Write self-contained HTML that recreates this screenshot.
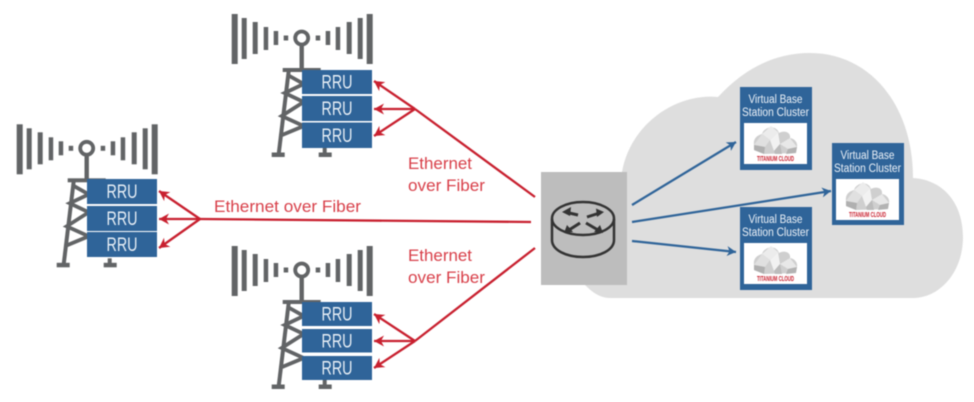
<!DOCTYPE html>
<html>
<head>
<meta charset="utf-8">
<style>
html,body{margin:0;padding:0;background:#fff;width:974px;height:402px;overflow:hidden}
svg{display:block;filter:blur(.4px)}
text{font-family:"Liberation Sans",sans-serif}
.rru{fill:#e8eff6;font-size:19px;text-anchor:middle}
.eth{fill:#d8404a;font-size:16.500px}
.vb{fill:#edf2f8;font-size:11.500px;text-anchor:middle}
.ti{fill:#c8202f;font-size:7px;font-weight:bold;text-anchor:middle}
</style>
</head>
<body>
<svg width="974" height="402" viewBox="0 0 974 402" xmlns="http://www.w3.org/2000/svg">
<defs>
<marker id="r" markerUnits="userSpaceOnUse" markerWidth="12" markerHeight="12" refX="10" refY="6" orient="auto"><path d="M0 .5L10 6L0 11.500L3 6Z" fill="#c8202f"/></marker>
<marker id="b" markerUnits="userSpaceOnUse" markerWidth="11" markerHeight="12" refX="9" refY="6" orient="auto"><path d="M0 1L9 6L0 11L2.500 6Z" fill="#2f6499"/></marker>
<g id="tower">
<g fill="#626466">
<rect x="-70" y="-24" width="6" height="50"/><rect x="-60" y="-20" width="5" height="41"/><rect x="-49" y="-16" width="5" height="32"/><rect x="-38" y="-11" width="4.500" height="23"/><rect x="-28" y="-7" width="4.500" height="14"/><rect x="-18" y="-2.500" width="4.500" height="5"/>
<rect x="14" y="-2.500" width="4.500" height="5"/><rect x="24" y="-7" width="4.500" height="14"/><rect x="34" y="-11" width="4.500" height="23"/><rect x="45" y="-16" width="5" height="32"/><rect x="56" y="-20" width="5" height="41"/><rect x="65" y="-24" width="6" height="50"/>
<rect x="-2.200" y="7" width="4.400" height="26"/>
<rect x="-19" y="30" width="38" height="4"/>
<rect x="-30" y="114.500" width="13" height="4.500"/><rect x="17" y="114.500" width="13" height="4.500"/>
</g>
<circle cx="0" cy="0" r="6.500" fill="#fff" stroke="#626466" stroke-width="3.800"/>
<g fill="none" stroke="#626466">
<path d="M-13 33L-23 116" stroke-width="4"/><path d="M23 110L23 116" stroke-width="4"/>
<path d="M-14 37L2 46L-17 55L2 64L-20 78L2 88L-22 98" stroke-width="3.800"/>
</g>
</g>
<g id="logo">
<path d="M10 22C9 14 15 12 18 11C20 4 32 1 35 10C40 7 47 9 46 15C52 16 55 22 52 26L52 30L20 31L10 27Z" fill="#cfcfcf"/>
<path d="M18 11L27 3L34 9L26 17Z" fill="#ececec"/>
<path d="M10 22L18 11L26 17L21 24Z" fill="#e0e0e0"/>
<path d="M26 17L34 9L36 21L30 28Z" fill="#f2f2f2"/>
<path d="M36 21L46 15L53 24L44 26Z" fill="#e8e8e8"/>
<path d="M10 22L21 24L20 31L10 27Z" fill="#b0b0b0"/>
<path d="M30 28L36 21L38 31L31 31Z" fill="#bcbcbc"/>
<path d="M44 26L53 24L52 30L42 31Z" fill="#b3b3b3"/>
</g>
</defs>

<!-- cloud -->
<path d="M622 172C630 125 675 93 718 97C745 68 775 53 810 53C870 53 913 105 913 178C945 180 963 205 963 237C963 272 940 298 913 298L610 298C600 298 592 292 585 285L622 285Z" fill="#dedede"/>

<!-- router -->
<rect x="541" y="172" width="86" height="113" fill="#bdbdbd"/>
<g fill="none" stroke="#333" stroke-width="2.500">
<ellipse cx="583" cy="218.500" rx="31" ry="16.500"/>
<path d="M552 219V240C552 250 566 257 583 257C600 257 614 250 614 240V219"/>
<g stroke-width="3">
<path d="M578 215L567 212.500"/><path d="M587 217L598 213.500"/><path d="M580 223L569 230"/><path d="M586 223L598 230"/>
</g>
</g>
<g fill="#333"><path d="M562 212L571 207L570 216Z"/><path d="M604 212L596 208.500L597 217Z"/><path d="M564 233L567 225L573 232Z"/><path d="M603 233L600 225L594 232Z"/></g>

<!-- towers -->
<use href="#tower" x="301.700" y="38"/>
<use href="#tower" x="86.700" y="148.300"/>
<use href="#tower" x="301.700" y="270"/>

<!-- RRUs -->
<g fill="#2f6499">
<rect x="302" y="70" width="70" height="24"/><rect x="302" y="96" width="70" height="25"/><rect x="302" y="122.500" width="70" height="25.500"/>
<rect x="87" y="179" width="70" height="25"/><rect x="87" y="206" width="70" height="25"/><rect x="87" y="232" width="70" height="25"/>
<rect x="302" y="302" width="70" height="24"/><rect x="302" y="329" width="70" height="23.500"/><rect x="302" y="356" width="70" height="24"/>
</g>
<text class="rru" x="337" y="88.500" textLength="31" lengthAdjust="spacingAndGlyphs">RRU</text>
<text class="rru" x="337" y="115" textLength="31" lengthAdjust="spacingAndGlyphs">RRU</text>
<text class="rru" x="337" y="142" textLength="31" lengthAdjust="spacingAndGlyphs">RRU</text>
<text class="rru" x="122" y="198" textLength="31" lengthAdjust="spacingAndGlyphs">RRU</text>
<text class="rru" x="122" y="225" textLength="31" lengthAdjust="spacingAndGlyphs">RRU</text>
<text class="rru" x="122" y="251" textLength="31" lengthAdjust="spacingAndGlyphs">RRU</text>
<text class="rru" x="337" y="320.500" textLength="31" lengthAdjust="spacingAndGlyphs">RRU</text>
<text class="rru" x="337" y="347.500" textLength="31" lengthAdjust="spacingAndGlyphs">RRU</text>
<text class="rru" x="337" y="374.500" textLength="31" lengthAdjust="spacingAndGlyphs">RRU</text>

<!-- red connectors -->
<g fill="none" stroke="#c8202f" stroke-width="2.300">
<path d="M415 109L535 197"/>
<path d="M415 109L374 81" marker-end="url(#r)"/><path d="M415 109L374 109" marker-end="url(#r)"/><path d="M415 109L374 136" marker-end="url(#r)"/>
<path d="M200 219L531 222"/>
<path d="M200 219L159 191" marker-end="url(#r)"/><path d="M200 219L159 219" marker-end="url(#r)"/><path d="M200 219L159 248" marker-end="url(#r)"/>
<path d="M415 341L535 248"/>
<path d="M415 341L374 314" marker-end="url(#r)"/><path d="M415 341L374 341" marker-end="url(#r)"/><path d="M415 341L374 368" marker-end="url(#r)"/>
</g>

<!-- labels -->
<text class="eth" x="408" y="169" textLength="64" lengthAdjust="spacingAndGlyphs">Ethernet</text>
<text class="eth" x="408" y="191" textLength="77" lengthAdjust="spacingAndGlyphs">over Fiber</text>
<text class="eth" x="214" y="212" textLength="147" lengthAdjust="spacingAndGlyphs">Ethernet over Fiber</text>
<text class="eth" x="408" y="261" textLength="64" lengthAdjust="spacingAndGlyphs">Ethernet</text>
<text class="eth" x="408" y="283" textLength="77" lengthAdjust="spacingAndGlyphs">over Fiber</text>

<!-- blue connectors -->
<g fill="none" stroke="#2f6499" stroke-width="2.200">
<path d="M632 205L736 142" marker-end="url(#b)"/>
<path d="M632 222L831 191" marker-end="url(#b)"/>
<path d="M632 241L736 252" marker-end="url(#b)"/>
</g>

<!-- VBS boxes -->
<rect x="740" y="87" width="72" height="83" fill="#2f6499"/>
<rect x="744" y="123" width="63" height="41" fill="#fff"/>
<use href="#logo" x="744" y="123"/>
<text class="vb" x="775.500" y="103" textLength="54" lengthAdjust="spacingAndGlyphs">Virtual Base</text>
<text class="vb" x="775.500" y="116" textLength="67" lengthAdjust="spacingAndGlyphs">Station Cluster</text>
<text class="ti" x="775.500" y="161" textLength="37" lengthAdjust="spacingAndGlyphs">TITANIUM CLOUD</text>

<rect x="832" y="143" width="72" height="82" fill="#2f6499"/>
<rect x="836" y="179" width="63" height="41" fill="#fff"/>
<use href="#logo" x="836" y="179"/>
<text class="vb" x="867.500" y="159" textLength="54" lengthAdjust="spacingAndGlyphs">Virtual Base</text>
<text class="vb" x="867.500" y="172" textLength="67" lengthAdjust="spacingAndGlyphs">Station Cluster</text>
<text class="ti" x="867.500" y="217" textLength="37" lengthAdjust="spacingAndGlyphs">TITANIUM CLOUD</text>

<rect x="740" y="207" width="72" height="83" fill="#2f6499"/>
<rect x="744" y="243" width="63" height="41" fill="#fff"/>
<use href="#logo" x="744" y="243"/>
<text class="vb" x="775.500" y="223" textLength="54" lengthAdjust="spacingAndGlyphs">Virtual Base</text>
<text class="vb" x="775.500" y="236" textLength="67" lengthAdjust="spacingAndGlyphs">Station Cluster</text>
<text class="ti" x="775.500" y="281" textLength="37" lengthAdjust="spacingAndGlyphs">TITANIUM CLOUD</text>
</svg>
</body>
</html>
